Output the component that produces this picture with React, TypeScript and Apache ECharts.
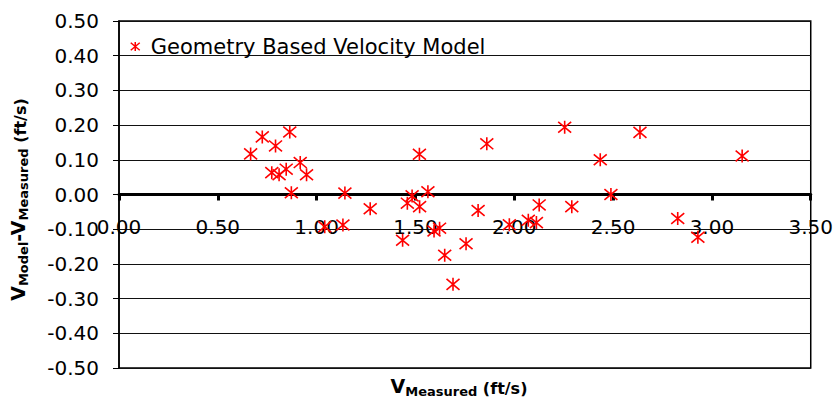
import React, { useEffect, useRef } from 'react';
import * as echarts from 'echarts';

// V measured (ft/s)
const measured = [
  0.666, 0.725, 0.773, 0.792, 0.81, 0.846, 0.864, 0.872, 0.917, 0.949,
  1.041, 1.133, 1.143, 1.271, 1.435, 1.459, 1.483, 1.52, 1.521, 1.563,
  1.594, 1.622, 1.648, 1.69, 1.756, 1.817, 1.861, 1.975, 2.071, 2.112,
  2.126, 2.255, 2.291, 2.435, 2.489, 2.636, 2.827, 2.929, 3.153,
];
// V model - V measured (ft/s)
const residual = [
  0.117, 0.166, 0.063, 0.14, 0.057, 0.073, 0.18, 0.005, 0.092, 0.057,
  -0.093, -0.088, 0.004, -0.041, -0.132, -0.025, -0.004, 0.116, -0.035, 0.008,
  -0.105, -0.097, -0.175, -0.259, -0.142, -0.046, 0.146, -0.087, -0.074, -0.081,
  -0.03, 0.194, -0.035, 0.1, 0.0, 0.179, -0.069, -0.123, 0.111,
];

const xTicks = [0, 0.5, 1, 1.5, 2, 2.5, 3, 3.5];
const yTicks = [-0.5, -0.4, -0.3, -0.2, -0.1, 0, 0.1, 0.2, 0.3, 0.4, 0.5];
const seriesName = 'Geometry Based Velocity Model';

const STAR = 'path://M0,1L12,11M0,11L12,1M6,0L6,12';
const FONT = 'DejaVu Sans';

const GRID_TOP = 21;
const GRID_BOTTOM = 43;
const CHART_H = 411;

const titleRich = {
  v: { fontFamily: FONT, fontWeight: 'bold', fontSize: 19, color: '#000', lineHeight: 22, verticalAlign: 'top' },
  s: { fontFamily: FONT, fontWeight: 'bold', fontSize: 13, color: '#000', lineHeight: 13, padding: [9, 0, 0, 0], verticalAlign: 'bottom' },
  u: { fontFamily: FONT, fontWeight: 'bold', fontSize: 16, color: '#000', lineHeight: 16, padding: [4, 0, 0, 0], verticalAlign: 'top' },
};

export default function App() {
  const ref = useRef<HTMLDivElement>(null);
  useEffect(() => {
    if (!ref.current) return;
    const chart = echarts.init(ref.current, undefined, { renderer: 'svg' });
    const data = measured.map((x, i) => [x, residual[i]]);
    const fmt = (v: number) => (Math.abs(v) < 1e-9 ? 0 : v).toFixed(2);
    const yMin = yTicks[0];
    const yMax = yTicks[yTicks.length - 1];
    const plotH = CHART_H - GRID_TOP - GRID_BOTTOM;
    // move the x axis from the bottom edge up to y = 0
    const zeroOffset = -plotH * (0 - yMin) / (yMax - yMin);
    chart.setOption({
      animation: false,
      backgroundColor: '#ffffff',
      grid: {
        left: 116, right: 23, top: GRID_TOP, bottom: GRID_BOTTOM,
        show: true, borderColor: '#000', borderWidth: 1.5, backgroundColor: 'transparent',
      },
      legend: {
        show: true,
        left: 125, top: 31,
        icon: STAR,
        itemWidth: 9, itemHeight: 10,
        data: [seriesName],
        itemStyle: { color: '#FF0000', borderColor: '#FF0000', borderWidth: 1.5 },
        textStyle: { fontFamily: FONT, fontSize: 21, color: '#000', padding: [0, 0, 0, 6] },
      },
      xAxis: {
        type: 'value',
        position: 'bottom',
        offset: zeroOffset,
        min: xTicks[0], max: xTicks[xTicks.length - 1], interval: xTicks[1] - xTicks[0],
        axisLine: { show: true, onZero: false, lineStyle: { color: '#000', width: 3 } },
        axisTick: { show: true, length: 6, lineStyle: { color: '#000', width: 3 } },
        axisLabel: { margin: 22, formatter: fmt, fontFamily: FONT, fontSize: 20, color: '#000' },
        splitLine: { show: false },
      },
      yAxis: {
        type: 'value',
        min: yMin, max: yMax, interval: 0.1,
        axisLine: { show: true, onZero: false, lineStyle: { color: '#000', width: 1.5 } },
        axisTick: { show: true, length: 6, lineStyle: { color: '#000', width: 1 } },
        axisLabel: { margin: 20, formatter: fmt, fontFamily: FONT, fontSize: 20, color: '#000' },
        splitLine: { show: true, lineStyle: { color: '#111', width: 1 } },
        name: '{v|V}{s|Model}{v|-V}{s|Measured}{u| (ft/s)}',
        nameLocation: 'middle',
        nameRotate: 90,
        nameGap: 89,
        nameTextStyle: { rich: titleRich, padding: [0, 10, 0, 0] },
      },
      graphic: [
        {
          type: 'text',
          x: 459, y: 376,
          style: {
            text: '{v|V}{s|Measured}{u| (ft/s)}',
            rich: titleRich,
            align: 'center',
            verticalAlign: 'top',
          },
        },
      ],
      series: [
        {
          type: 'scatter',
          name: seriesName,
          data,
          symbol: STAR,
          symbolSize: 13,
          itemStyle: { color: '#FF0000', borderColor: '#FF0000', borderWidth: 1.6, opacity: 1 },
          z: 3,
        },
      ],
    });
    return () => chart.dispose();
  }, []);
  return (
    <div
      ref={ref}
      style={{ position: 'fixed', left: 0, top: 0, width: 836, height: 411, background: '#fff' }}
    />
  );
}
